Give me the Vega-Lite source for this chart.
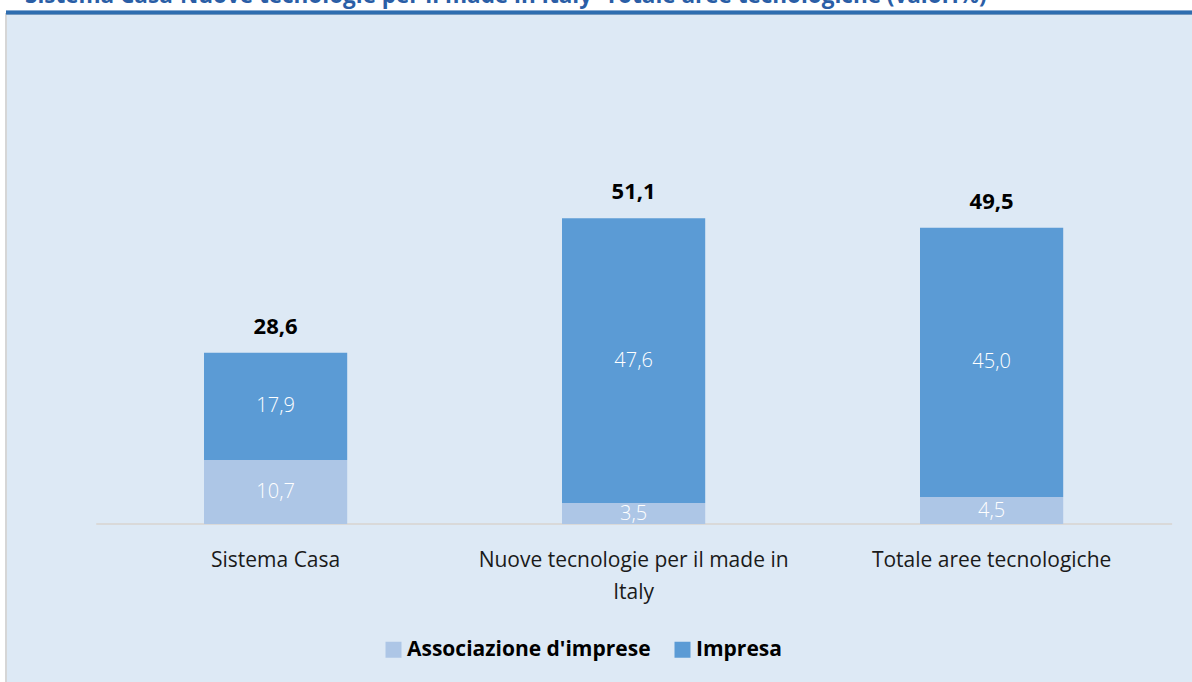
{
  "$schema": "https://vega.github.io/schema/vega-lite/v6.json",
  "autosize": {"type": "none"},
  "width": 1188,
  "height": 670,
  "padding": {"left": 6, "top": 14, "right": -2, "bottom": -2},
  "background": "#ffffff",
  "title": {
    "text": "Sistema Casa-Nuove tecnologie per il made in Italy- Totale aree tecnologiche (valori%)",
    "anchor": "start",
    "frame": "group",
    "orient": "top",
    "baseline": "alphabetic",
    "offset": 0,
    "dx": 19,
    "dy": 14.5,
    "font": "Open Sans",
    "fontSize": 22.5,
    "fontWeight": "bold",
    "color": "#2a5ea6"
  },
  "config": {
    "locale": {"number": {"decimal": ",", "thousands": ".", "grouping": [3], "currency": ["", " €"]}},
    "view": {"fill": "#dde9f5", "stroke": "#d6d6d6", "strokeWidth": 2},
    "font": "Open Sans"
  },
  "datasets": {
    "parts": [
      {"cat": "Sistema Casa", "serie": "Associazione d'imprese", "v": 10.7},
      {"cat": "Sistema Casa", "serie": "Impresa", "v": 17.9},
      {"cat": "Nuove tecnologie per il made in Italy", "serie": "Associazione d'imprese", "v": 3.5},
      {"cat": "Nuove tecnologie per il made in Italy", "serie": "Impresa", "v": 47.6},
      {"cat": "Totale aree tecnologiche", "serie": "Associazione d'imprese", "v": 4.5},
      {"cat": "Totale aree tecnologiche", "serie": "Impresa", "v": 45.0}
    ],
    "totals": [
      {"cat": "Sistema Casa", "total": 28.6, "label": "Sistema Casa"},
      {"cat": "Nuove tecnologie per il made in Italy", "total": 51.1, "label": "Nuove tecnologie per il made in\nItaly"},
      {"cat": "Totale aree tecnologiche", "total": 49.5, "label": "Totale aree tecnologiche"}
    ]
  },
  "encoding": {
    "x": {
      "field": "cat",
      "type": "nominal",
      "sort": ["Sistema Casa", "Nuove tecnologie per il made in Italy", "Totale aree tecnologiche"],
      "scale": {"paddingInner": 0.6, "paddingOuter": 0.4592, "align": 0.6022},
      "axis": null
    }
  },
  "layer": [
    {
      "data": {"name": "totals"},
      "mark": {"type": "rule", "color": "#d9d9d9", "strokeWidth": 2},
      "encoding": {
        "x": {"datum": "Sistema Casa", "bandPosition": -0.75},
        "x2": {"datum": "Totale aree tecnologiche", "bandPosition": 1.76},
        "y": {"datum": 0, "type": "quantitative", "scale": {"domain": [-26.73, 85.21], "nice": false, "zero": false}, "axis": null}
      }
    },
    {
      "data": {"name": "totals"},
      "mark": {"type": "rule", "color": "#2e6db0", "strokeWidth": 3.5, "clip": false},
      "encoding": {
        "x": null,
        "y": {"datum": 85.46, "type": "quantitative"}
      }
    },
    {
      "data": {"name": "parts"},
      "mark": {"type": "bar"},
      "encoding": {
        "y": {"field": "v", "type": "quantitative", "stack": "zero"},
        "order": {"field": "serie", "sort": "ascending"},
        "color": {
          "field": "serie",
          "type": "nominal",
          "scale": {"domain": ["Associazione d'imprese", "Impresa"], "range": ["#adc6e6", "#5b9bd5"]},
          "legend": {
            "title": null,
            "orient": "none",
            "direction": "horizontal",
            "legendX": 377,
            "legendY": 625,
            "symbolType": "square",
            "symbolSize": 256,
            "symbolOpacity": 1,
            "symbolStrokeWidth": 0,
            "labelFont": "Open Sans",
            "labelFontSize": 21,
            "labelFontWeight": "bold",
            "labelColor": "#000000",
            "labelOffset": 3,
            "columnPadding": 21,
            "labelLimit": 400
          }
        }
      }
    },
    {
      "data": {"name": "parts"},
      "mark": {"type": "text", "color": "#ffffff", "fontSize": 20, "fontWeight": 300, "baseline": "middle", "align": "center"},
      "encoding": {
        "y": {"field": "v", "type": "quantitative", "stack": "zero", "bandPosition": 0.5},
        "order": {"field": "serie", "sort": "ascending"},
        "detail": {"field": "serie"},
        "text": {"field": "v", "type": "quantitative", "format": ".1f"}
      }
    },
    {
      "data": {"name": "totals"},
      "mark": {"type": "text", "color": "#000000", "fontSize": 22, "fontWeight": "bold", "baseline": "alphabetic", "align": "center", "dy": -19},
      "encoding": {
        "y": {"field": "total", "type": "quantitative"},
        "text": {"field": "total", "type": "quantitative", "format": ".1f"}
      }
    },
    {
      "data": {"name": "totals"},
      "mark": {"type": "text", "color": "#1a1a1a", "fontSize": 21, "baseline": "alphabetic", "align": "center", "dy": 43, "lineBreak": "\n", "lineHeight": 32},
      "encoding": {
        "y": {"datum": 0, "type": "quantitative"},
        "text": {"field": "label"}
      }
    }
  ]
}
